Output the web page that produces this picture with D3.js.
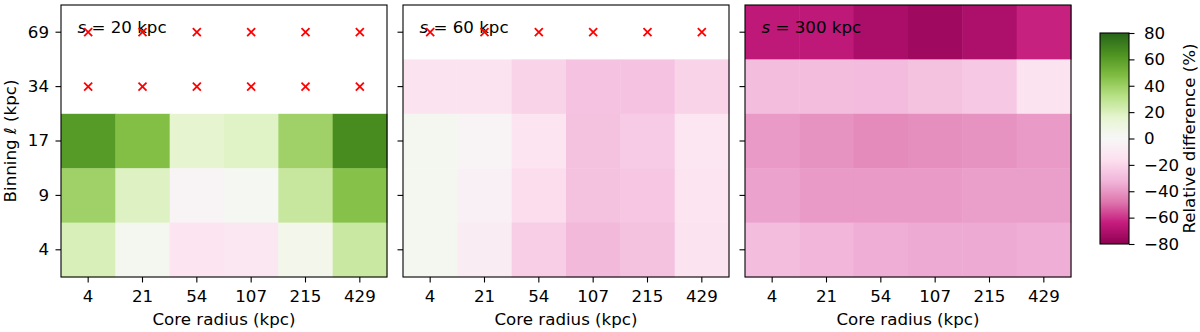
<!DOCTYPE html>
<html>
<head>
<meta charset="utf-8">
<script src="https://cdn.jsdelivr.net/npm/d3@7"></script>
<style>
  body { margin: 0; background: #fff; }
  svg text { font-family: "DejaVu Sans", sans-serif; fill: #000; }
</style>
</head>
<body>
<script>
// ---- data ----
var coreRadii = ["4", "21", "54", "107", "215", "429"];
var binnings = ["69", "34", "17", "9", "4"];
var panelLabels = ["20", "60", "300"];
var cbarTicks = [80, 60, 40, 20, 0, -20, -40, -60, -80];

// relative difference (%), rows follow binnings (top to bottom), null = no value
var diffS20 = [
    [null, null, null, null, null, null],
    [null, null, null, null, null, null],
    [61, 47, 16, 18, 39, 66],
    [39, 19, -2, 2, 27, 46],
    [21, 3, -13, -11, 5, 26]
];
var diffS60 = [
    [null, null, null, null, null, null],
    [-14, -14, -21, -27, -27, -21],
    [3, -2, -13, -28, -24, -12],
    [3, -5, -17, -28, -26, -13],
    [3, -8, -23, -31, -28, -14]
];
var diffS300 = [
    [-66, -66, -72, -75, -71, -63],
    [-29, -29, -30, -28, -25, -14],
    [-39, -41, -43, -42, -41, -39],
    [-37, -39, -39, -39, -38, -38],
    [-29, -32, -34, -35, -35, -34]
];
var panels = [diffS20, diffS60, diffS300];

// ---- layout ----
var width = 1200, height = 332;
var panelLeft = [61, 403, 745];
var panelW = 326;
var plotTop = 5, plotBottom = 277;
var tickLen = 5.5;
var fs = 16.67;

var svg = d3.select("body").append("svg")
    .attr("width", width)
    .attr("height", height);

var piyg = d3.piecewise(d3.interpolateRgb, d3.schemePiYG[11]);
var color = d3.scaleSequential(piyg).domain([-80, 80]).clamp(true);

var y = d3.scaleBand().domain(binnings).range([plotTop, plotBottom]).padding(0);

panels.forEach(function(grid, p) {
    var x = d3.scaleBand().domain(coreRadii)
        .range([panelLeft[p], panelLeft[p] + panelW]).padding(0);
    var g = svg.append("g");

    var cells = [];
    grid.forEach(function(row, i) {
        row.forEach(function(v, j) {
            cells.push({ r: binnings[i], c: coreRadii[j], v: v });
        });
    });

    g.selectAll("rect.cell").data(cells.filter(function(d) { return d.v !== null; }))
        .enter().append("rect")
        .attr("class", "cell")
        .attr("x", function(d) { return x(d.c); })
        .attr("y", function(d) { return y(d.r); })
        .attr("width", x.bandwidth() + 0.5)
        .attr("height", y.bandwidth() + 0.5)
        .attr("fill", function(d) { return color(d.v); });

    // frame
    g.append("rect")
        .attr("x", panelLeft[p])
        .attr("y", plotTop)
        .attr("width", panelW)
        .attr("height", plotBottom - plotTop)
        .attr("fill", "none")
        .attr("stroke", "#000")
        .attr("stroke-width", 1.1);

    // x axis
    var xAxis = g.append("g")
        .attr("transform", "translate(0," + plotBottom + ")")
        .call(d3.axisBottom(x).tickSize(tickLen).tickPadding(7.5));
    xAxis.select(".domain").remove();
    xAxis.selectAll(".tick line").attr("stroke-width", 1.1);
    xAxis.selectAll("text").attr("font-size", fs).attr("font-family", "DejaVu Sans");

    // y axis
    var yAxis = g.append("g")
        .attr("transform", "translate(" + panelLeft[p] + ",0)")
        .call(d3.axisLeft(y).tickSize(tickLen).tickPadding(6.5));
    yAxis.select(".domain").remove();
    yAxis.selectAll(".tick line").attr("stroke-width", 1.1);
    yAxis.selectAll("text").attr("font-size", fs).attr("font-family", "DejaVu Sans");
    if (p > 0) yAxis.selectAll("text").remove();

    g.append("text")
        .attr("x", panelLeft[p] + panelW / 2)
        .attr("y", 325)
        .attr("text-anchor", "middle")
        .attr("font-size", fs)
        .text("Core radius (kpc)");

    var lbl = g.append("text")
        .attr("x", panelLeft[p] + 16.5)
        .attr("y", 33)
        .attr("font-size", fs);
    lbl.append("tspan").attr("font-style", "italic").text("s");
    lbl.append("tspan").text(" = " + panelLabels[p] + " kpc");

    // red crosses where there is no value (drawn above the label)
    var s = 4;
    var crosses = g.selectAll("g.cross").data(cells.filter(function(d) { return d.v === null; }))
        .enter().append("g")
        .attr("transform", function(d) {
            return "translate(" + (x(d.c) + x.bandwidth() / 2) + "," + (y(d.r) + y.bandwidth() / 2) + ")";
        });
    crosses.append("path")
        .attr("d", "M" + (-s) + "," + (-s) + "L" + s + "," + s + "M" + (-s) + "," + s + "L" + s + "," + (-s))
        .attr("stroke", "red")
        .attr("stroke-width", 1.8)
        .attr("fill", "none");
});

// y label
var yl = svg.append("text")
    .attr("transform", "translate(16," + ((plotTop + plotBottom) / 2) + ") rotate(-90)")
    .attr("text-anchor", "middle")
    .attr("font-size", fs);
yl.append("tspan").text("Binning ");
yl.append("tspan").attr("font-style", "italic").text("\u2113");
yl.append("tspan").text(" (kpc)");

// ---- colorbar ----
var cbX = 1100, cbW = 29, cbTop = 33, cbBottom = 244;
var cbScale = d3.scaleLinear().domain([-80, 80]).range([cbBottom, cbTop]);

var defs = svg.append("defs");
var grad = defs.append("linearGradient")
    .attr("id", "cbgrad")
    .attr("x1", 0).attr("y1", 1).attr("x2", 0).attr("y2", 0);
grad.selectAll("stop").data(d3.range(0, 1.0001, 0.05))
    .enter().append("stop")
    .attr("offset", function(d) { return d; })
    .attr("stop-color", function(d) { return piyg(d); });

svg.append("rect")
    .attr("x", cbX).attr("y", cbTop)
    .attr("width", cbW).attr("height", cbBottom - cbTop)
    .attr("fill", "url(#cbgrad)")
    .attr("stroke", "#000")
    .attr("stroke-width", 1.1);

var cbAxis = svg.append("g")
    .attr("transform", "translate(" + (cbX + cbW) + ",0)")
    .call(d3.axisRight(cbScale).tickValues(cbarTicks).tickSize(tickLen).tickPadding(9.5)
        .tickFormat(function(d) { return d < 0 ? "\u2212" + Math.abs(d) : d; }));
cbAxis.select(".domain").remove();
cbAxis.selectAll(".tick line").attr("stroke-width", 1.1);
cbAxis.selectAll("text").attr("font-size", fs).attr("font-family", "DejaVu Sans");

svg.append("text")
    .attr("transform", "translate(1195," + ((cbTop + cbBottom) / 2) + ") rotate(-90)")
    .attr("text-anchor", "middle")
    .attr("font-size", fs)
    .text("Relative difference (%)");
</script>
</body>
</html>
